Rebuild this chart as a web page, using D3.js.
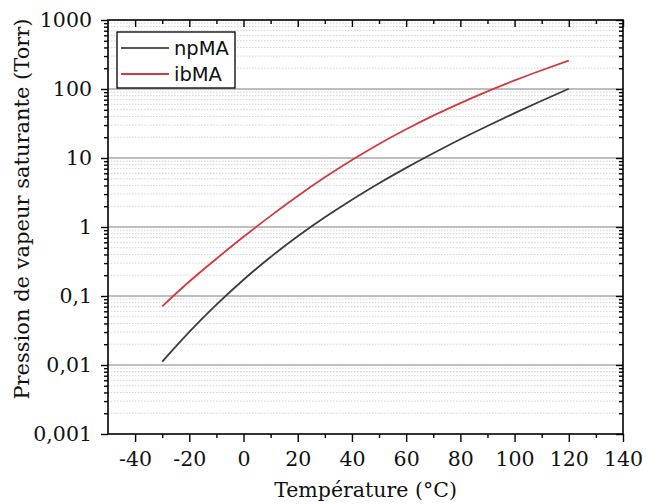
<!DOCTYPE html>
<html>
<head>
<meta charset="utf-8">
<script src="https://cdn.jsdelivr.net/npm/d3@7"></script>
<style>
  html, body { margin: 0; padding: 0; background: #fff; }
  svg { display: block; }
</style>
</head>
<body>
<svg id="chart" width="647" height="504"></svg>
<script>
// ---- data ----
const temperatures = [-30, -20, -10, 0, 10, 20, 30, 40, 50, 60, 70, 80, 90, 100, 110, 120];
const npMA = [0.0112, 0.0302, 0.0750, 0.172, 0.367, 0.733, 1.38, 2.48, 4.30, 7.19, 11.7, 18.7, 29.1, 44.7, 67.6, 101];
const ibMA = [0.0708, 0.162, 0.347, 0.721, 1.45, 2.82, 5.25, 9.35, 16.0, 26.1, 41.1, 62.5, 92.3, 133, 187, 259];
const seriesNames = ["npMA", "ibMA"];
const seriesColors = ["#3b3b3b", "#d4393e"];
const xTickValues = [-40, -20, 0, 20, 40, 60, 80, 100, 120, 140];
const xMinorValues = [-30, -10, 10, 30, 50, 70, 90, 110, 130];
const yTickValues = [0.001, 0.01, 0.1, 1, 10, 100, 1000];
const yTickLabels = ["0,001", "0,01", "0,1", "1", "10", "100", "1000"];
const xTitle = "Température (°C)";
const yTitle = "Pression de vapeur saturante (Torr)";

(function () {
// ---- layout ----
const svg = d3.select("#chart");
const pL = 108, pR = 623, pT = 20, pB = 434;
const x = d3.scaleLinear().domain([-50, 140]).range([pL, pR]);
const y = d3.scaleLog().domain([0.001, 1000]).range([pB, pT]);

const serif = "'DejaVu Serif', serif";
const sans = "'DejaVu Sans', sans-serif";

// minor y values (2..9 each decade)
const yMinor = [];
for (let e = -3; e < 3; e++) for (let k = 2; k <= 9; k++) yMinor.push(k * Math.pow(10, e));

// ---- gridlines ----
const grid = svg.append("g");
grid.selectAll("line.minor").data(yMinor).join("line")
  .attr("class", "minor")
  .attr("x1", pL).attr("x2", pR)
  .attr("y1", d => y(d)).attr("y2", d => y(d))
  .attr("stroke", "#d2d2d2").attr("stroke-width", 1)
  .attr("stroke-dasharray", "1.5,1.5");
grid.selectAll("line.major").data(yTickValues.slice(1, -1)).join("line")
  .attr("class", "major")
  .attr("x1", pL).attr("x2", pR)
  .attr("y1", d => y(d)).attr("y2", d => y(d))
  .attr("stroke", "#a8a8a8").attr("stroke-width", 1.6);

// ---- curves ----
const line = d3.line()
  .x(d => x(d[0])).y(d => y(d[1]))
  .curve(d3.curveNatural);
[npMA, ibMA].forEach((vals, i) => {
  svg.append("path")
    .datum(temperatures.map((t, j) => [t, vals[j]]))
    .attr("d", line)
    .attr("fill", "none")
    .attr("stroke", seriesColors[i])
    .attr("stroke-width", 1.8);
});

// ---- axes ----
function styleAxis(g) {
  g.select(".domain").remove();
  g.selectAll("line").attr("stroke", "#000").attr("stroke-width", 1.4);
}
// bottom
const xAxisB = svg.append("g").attr("transform", `translate(0,${pB})`)
  .call(d3.axisBottom(x).tickValues(xTickValues).tickSize(8).tickPadding(9).tickFormat(d => String(d)));
styleAxis(xAxisB);
xAxisB.selectAll("text").attr("font-family", serif).attr("font-size", "20.5px").attr("fill", "#111");
svg.append("g").attr("transform", `translate(0,${pB})`)
  .call(d3.axisBottom(x).tickValues(xMinorValues).tickSize(4).tickFormat(""))
  .call(styleAxis);
// top (inward)
svg.append("g").attr("transform", `translate(0,${pT})`)
  .call(d3.axisBottom(x).tickValues(xTickValues).tickSize(7).tickFormat(""))
  .call(styleAxis);
svg.append("g").attr("transform", `translate(0,${pT})`)
  .call(d3.axisBottom(x).tickValues(xMinorValues).tickSize(4).tickFormat(""))
  .call(styleAxis);
// left
const yAxisL = svg.append("g").attr("transform", `translate(${pL},0)`)
  .call(d3.axisLeft(y).tickValues(yTickValues).tickSize(7).tickPadding(9)
    .tickFormat((d, i) => yTickLabels[i]));
styleAxis(yAxisL);
yAxisL.selectAll("text").attr("font-family", serif).attr("font-size", "20.5px").attr("fill", "#111");
svg.append("g").attr("transform", `translate(${pL},0)`)
  .call(d3.axisLeft(y).tickValues(yMinor).tickSize(4).tickFormat(""))
  .call(styleAxis);
// right (inward)
svg.append("g").attr("transform", `translate(${pR},0)`)
  .call(d3.axisLeft(y).tickValues(yTickValues).tickSize(7).tickFormat(""))
  .call(styleAxis);
svg.append("g").attr("transform", `translate(${pR},0)`)
  .call(d3.axisLeft(y).tickValues(yMinor).tickSize(4).tickFormat(""))
  .call(styleAxis);

// frame
svg.append("rect")
  .attr("x", pL).attr("y", pT)
  .attr("width", pR - pL).attr("height", pB - pT)
  .attr("fill", "none").attr("stroke", "#000").attr("stroke-width", 1.6);

// ---- titles ----
svg.append("text")
  .attr("x", (pL + pR) / 2).attr("y", 497)
  .attr("text-anchor", "middle")
  .attr("font-family", serif).attr("font-size", "20.5px").attr("fill", "#111")
  .text(xTitle);
svg.append("text")
  .attr("transform", `translate(22,${(15 + 403) / 2}) rotate(-90)`)
  .attr("text-anchor", "middle").attr("dominant-baseline", "central")
  .attr("font-family", serif).attr("font-size", "21px").attr("fill", "#111")
  .text(yTitle);

// ---- legend ----
const lg = svg.append("g");
lg.append("rect")
  .attr("x", 117).attr("y", 32).attr("width", 118).attr("height", 56)
  .attr("fill", "#fff").attr("stroke", "#000").attr("stroke-width", 1.3);
seriesNames.forEach((name, i) => {
  const yy = 48 + i * 26;
  lg.append("line")
    .attr("x1", 121).attr("x2", 169).attr("y1", yy).attr("y2", yy)
    .attr("stroke", i === 0 ? "#555" : seriesColors[1]).attr("stroke-width", 2);
  lg.append("text")
    .attr("x", 174).attr("y", yy).attr("dominant-baseline", "central")
    .attr("font-family", sans).attr("font-size", "19.5px").attr("fill", "#111")
    .text(name);
});
})();
</script>
</body>
</html>
